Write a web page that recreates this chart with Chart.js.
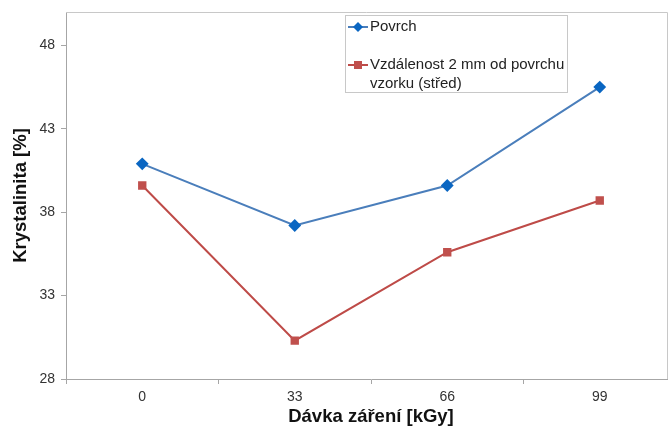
<!DOCTYPE html>
<html>
<head>
<meta charset="utf-8">
<script src="https://cdn.jsdelivr.net/npm/chart.js@4"></script>
<style>
  html, body { margin: 0; padding: 0; background: #fff; overflow: hidden; }
  #wrap { width: 668px; height: 428px; overflow: hidden; }
</style>
</head>
<body>
<!-- the plot in the original runs a little past the right edge of the picture -->
<div id="wrap"><canvas id="myChart" width="676" height="428"></canvas></div>
<script>
// data
const labels = ["0", "33", "66", "99"];
const povrch = [40.9, 37.2, 39.6, 45.5];
const stred = [39.6, 30.3, 35.6, 38.7];
const yTicks = [28, 33, 38, 43, 48];

const seriesNames = ["Povrch", ["Vzdálenost 2 mm od povrchu", "vzorku (střed)"]];

// legend drawn inside the plot, like the Excel original
const boxLegend = {
  id: 'boxLegend',
  afterDraw(chart) {
    const ctx = chart.ctx;
    const a = chart.chartArea;
    const x = a.left + 279, y = a.top + 3, w = 222, h = 77;
    ctx.save();
    ctx.fillStyle = '#fff';
    ctx.fillRect(x, y, w, h);
    ctx.strokeStyle = '#c8c8c8';
    ctx.lineWidth = 1;
    ctx.strokeRect(x + 0.5, y + 0.5, w, h);
    ctx.font = '15px "Liberation Sans", Arial, sans-serif';
    ctx.textBaseline = 'middle';
    const rows = [y + 12, y + 50];
    chart.data.datasets.forEach((ds, i) => {
      const ly = rows[i];
      ctx.strokeStyle = ds.borderColor;
      ctx.lineWidth = 2;
      ctx.beginPath();
      ctx.moveTo(x + 3, ly);
      ctx.lineTo(x + 23, ly);
      ctx.stroke();
      ctx.fillStyle = ds.pointBackgroundColor;
      ctx.beginPath();
      if (ds.pointStyle === 'rectRot') {
        ctx.moveTo(x + 13, ly - 5);
        ctx.lineTo(x + 18, ly);
        ctx.lineTo(x + 13, ly + 5);
        ctx.lineTo(x + 8, ly);
        ctx.closePath();
      } else {
        ctx.rect(x + 9, ly - 4, 8, 8);
      }
      ctx.fill();
      ctx.fillStyle = '#222';
      const txt = [].concat(seriesNames[i]);
      txt.forEach((t, k) => ctx.fillText(t, x + 25, ly + k * 19));
    });
    ctx.restore();
  }
};

// grey frame on the top and at the visible right edge
const frame = {
  id: 'frame',
  beforeDatasetsDraw(chart) {
    const ctx = chart.ctx;
    const a = chart.chartArea;
    const r = Math.min(a.right, 668) - 0.5;
    ctx.save();
    ctx.strokeStyle = '#c8c8c8';
    ctx.lineWidth = 1;
    ctx.beginPath();
    ctx.moveTo(a.left, a.top + 0.5);
    ctx.lineTo(r, a.top + 0.5);
    ctx.lineTo(r, a.bottom);
    ctx.stroke();
    ctx.restore();
  }
};

const tickFont = { family: '"Liberation Sans", Arial, sans-serif', size: 14 };
const titleFont = { family: '"Liberation Sans", Arial, sans-serif', size: 18.5, weight: 'bold' };

var ctx = document.getElementById('myChart').getContext('2d');

var chart = new Chart(ctx, {
  type: 'line',
  data: {
    labels: labels,
    datasets: [{
      label: 'Povrch',
      data: povrch,
      borderColor: '#4a7ebb',
      backgroundColor: '#0a66c2',
      pointBackgroundColor: '#0a66c2',
      pointBorderColor: '#0a66c2',
      pointStyle: 'rectRot',
      pointRadius: 5,
      borderWidth: 2,
      tension: 0
    }, {
      label: 'Vzdálenost 2 mm od povrchu vzorku (střed)',
      data: stred,
      borderColor: '#be4b48',
      backgroundColor: '#c0504d',
      pointBackgroundColor: '#c0504d',
      pointBorderColor: '#c0504d',
      pointStyle: 'rect',
      pointRadius: 4.5,
      borderWidth: 2,
      tension: 0
    }]
  },
  options: {
    responsive: false,
    animation: false,
    layout: { padding: { top: 12, right: 0, left: 0, bottom: 0 }, autoPadding: false },
    plugins: {
      legend: { display: false },
      tooltip: { enabled: false }
    },
    scales: {
      x: {
        offset: true,
        grid: { offset: true, drawOnChartArea: false, tickLength: 5, color: '#a6a6a6' },
        border: { color: '#a6a6a6' },
        ticks: { font: tickFont, color: '#333', padding: 5, maxRotation: 0 },
        title: { display: true, text: 'Dávka záření [kGy]', font: titleFont, color: '#111', padding: { top: 0, bottom: 0 } },
        afterFit: s => { s.height = 428 - 379; s.paddingLeft = 0; s.paddingRight = 0; }
      },
      y: {
        min: 28,
        max: 50,
        afterBuildTicks: s => { s.ticks = yTicks.map(v => ({ value: v })); },
        grid: { drawOnChartArea: false, tickLength: 5, color: '#a6a6a6' },
        border: { color: '#a6a6a6' },
        ticks: { font: tickFont, color: '#333', padding: 6 },
        title: { display: true, text: 'Krystalinita [%]', font: titleFont, color: '#111', padding: { top: 10, bottom: 0 } },
        afterFit: s => { s.width = 66; s.paddingTop = 0; s.paddingBottom = 0; }
      }
    }
  },
  plugins: [frame, boxLegend]
});
</script>
</body>
</html>
